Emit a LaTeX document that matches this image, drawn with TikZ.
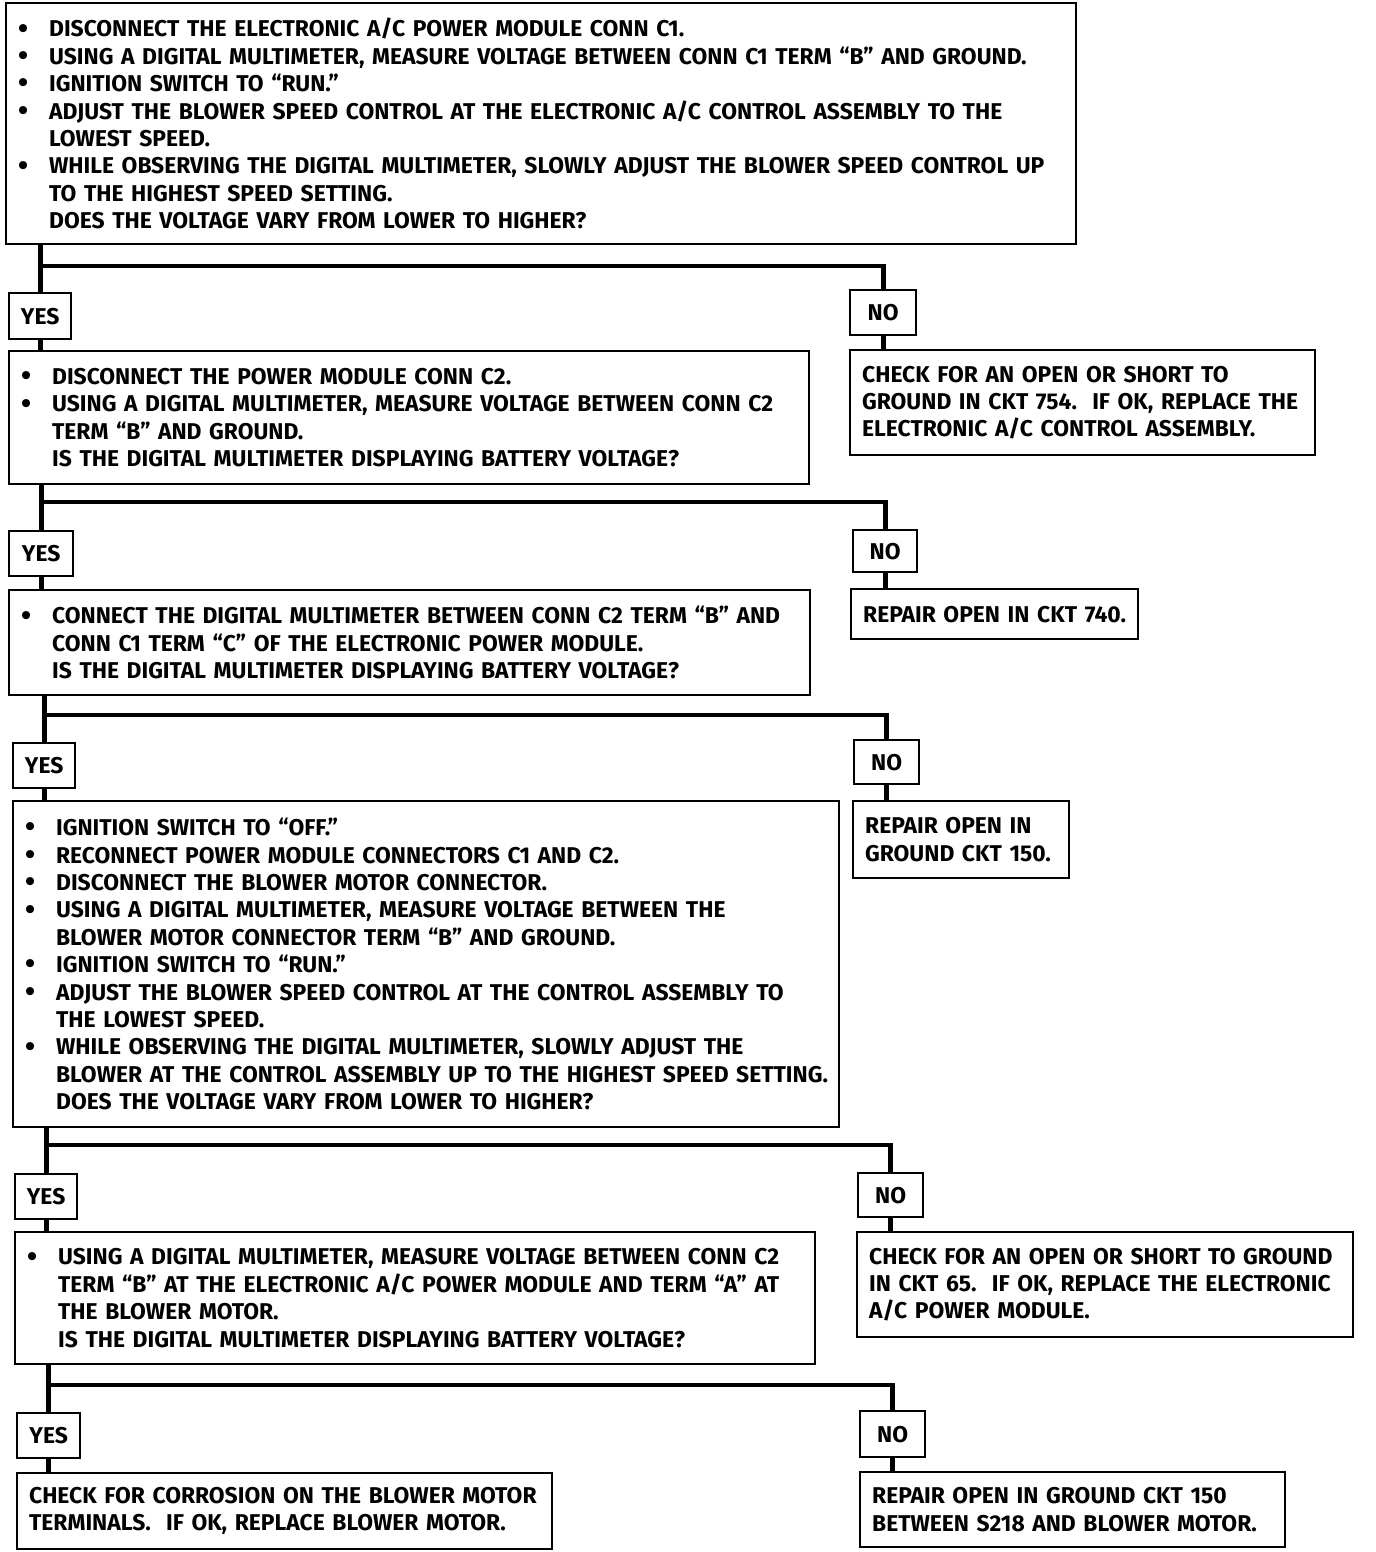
\documentclass[tikz,border=0pt]{standalone}
\usepackage{fontspec}
\setmainfont{Fira Sans}
\usetikzlibrary{positioning}

\newcommand{\bul}{\makebox[0.62cm][l]{\raisebox{-0.1ex}{\fontsize{16.5}{16.5}\selectfont\textbullet}}}
\newcommand{\ind}{\hspace*{0.62cm}}

\begin{document}
\begin{tikzpicture}[
    stepbox/.style={
        draw,
        line width=1.3pt,
        anchor=north west,
        align=left,
        font=\bfseries\fontsize{13}{15.6}\selectfont,
        inner xsep=0.24cm,
        inner ysep=0pt
    },
    answer/.style={
        draw,
        line width=1.3pt,
        anchor=north west,
        align=center,
        font=\bfseries\fontsize{13}{15}\selectfont,
        inner sep=0pt
    },
    flow/.style={line width=2.8pt}
]
\useasboundingbox (0,0) rectangle (27.52,-31.04);

\node[stepbox, text width=20.92cm, minimum height=4.82cm] (q1) at (0.10,-0.04) {
\bul DISCONNECT THE ELECTRONIC A/C POWER MODULE CONN C1.\\
\bul USING A DIGITAL MULTIMETER, MEASURE VOLTAGE BETWEEN CONN C1 TERM “B” AND GROUND.\\
\bul IGNITION SWITCH TO “RUN.”\\
\bul ADJUST THE BLOWER SPEED CONTROL AT THE ELECTRONIC A/C CONTROL ASSEMBLY TO THE\\
\ind LOWEST SPEED.\\
\bul WHILE OBSERVING THE DIGITAL MULTIMETER, SLOWLY ADJUST THE BLOWER SPEED CONTROL UP\\
\ind TO THE HIGHEST SPEED SETTING.\\
\ind DOES THE VOLTAGE VARY FROM LOWER TO HIGHER?
};

\node[answer, minimum width=1.24cm, minimum height=0.92cm] (yes1) at (0.16,-5.84) {YES};
\node[answer, minimum width=1.32cm, minimum height=0.90cm] (no1) at (16.98,-5.78) {NO};

\node[stepbox, text width=15.52cm, minimum height=2.66cm] (q2) at (0.16,-7.00) {
\bul DISCONNECT THE POWER MODULE CONN C2.\\
\bul USING A DIGITAL MULTIMETER, MEASURE VOLTAGE BETWEEN CONN C2\\
\ind TERM “B” AND GROUND.\\
\ind IS THE DIGITAL MULTIMETER DISPLAYING BATTERY VOLTAGE?
};

\node[stepbox, text width=8.82cm, minimum height=2.10cm] (r1) at (16.98,-6.98) {
CHECK FOR AN OPEN OR SHORT TO\\
GROUND IN CKT 754.\ \ IF OK, REPLACE THE\\
ELECTRONIC A/C CONTROL ASSEMBLY.
};

\node[answer, minimum width=1.28cm, minimum height=0.90cm] (yes2) at (0.16,-10.60) {YES};
\node[answer, minimum width=1.28cm, minimum height=0.84cm] (no2) at (17.04,-10.58) {NO};

\node[stepbox, text width=15.54cm, minimum height=2.10cm] (q3) at (0.16,-11.78) {
\bul CONNECT THE DIGITAL MULTIMETER BETWEEN CONN C2 TERM “B” AND\\
\ind CONN C1 TERM “C” OF THE ELECTRONIC POWER MODULE.\\
\ind IS THE DIGITAL MULTIMETER DISPLAYING BATTERY VOLTAGE?
};

\node[stepbox, text width=5.26cm, minimum height=1.00cm] (r2) at (17.00,-11.76) {
REPAIR OPEN IN CKT 740.
};

\node[answer, minimum width=1.24cm, minimum height=0.90cm] (yes3) at (0.24,-14.84) {YES};
\node[answer, minimum width=1.30cm, minimum height=0.88cm] (no3) at (17.06,-14.78) {NO};

\node[stepbox, text width=16.04cm, minimum height=6.52cm] (q4) at (0.24,-16.00) {
\bul IGNITION SWITCH TO “OFF.”\\
\bul RECONNECT POWER MODULE CONNECTORS C1 AND C2.\\
\bul DISCONNECT THE BLOWER MOTOR CONNECTOR.\\
\bul USING A DIGITAL MULTIMETER, MEASURE VOLTAGE BETWEEN THE\\
\ind BLOWER MOTOR CONNECTOR TERM “B” AND GROUND.\\
\bul IGNITION SWITCH TO “RUN.”\\
\bul ADJUST THE BLOWER SPEED CONTROL AT THE CONTROL ASSEMBLY TO\\
\ind THE LOWEST SPEED.\\
\bul WHILE OBSERVING THE DIGITAL MULTIMETER, SLOWLY ADJUST THE\\
\mbox{\ind BLOWER AT THE CONTROL ASSEMBLY UP TO THE HIGHEST SPEED SETTING.}\\
\ind DOES THE VOLTAGE VARY FROM LOWER TO HIGHER?
};

\node[stepbox, text width=3.84cm, minimum height=1.54cm] (r3) at (17.04,-16.00) {
REPAIR OPEN IN\\
GROUND CKT 150.
};

\node[answer, minimum width=1.24cm, minimum height=0.90cm] (yes4) at (0.28,-23.46) {YES};
\node[answer, minimum width=1.30cm, minimum height=0.88cm] (no4) at (17.14,-23.44) {NO};

\node[stepbox, text width=15.52cm, minimum height=2.64cm] (q5) at (0.28,-24.62) {
\bul USING A DIGITAL MULTIMETER, MEASURE VOLTAGE BETWEEN CONN C2\\
\ind TERM “B” AT THE ELECTRONIC A/C POWER MODULE AND TERM “A” AT\\
\ind THE BLOWER MOTOR.\\
\ind IS THE DIGITAL MULTIMETER DISPLAYING BATTERY VOLTAGE?
};

\node[stepbox, text width=9.44cm, minimum height=2.10cm] (r4) at (17.12,-24.62) {
CHECK FOR AN OPEN OR SHORT TO GROUND\\
IN CKT 65.\ \ IF OK, REPLACE THE ELECTRONIC\\
A/C POWER MODULE.
};

\node[answer, minimum width=1.26cm, minimum height=0.90cm] (yes5) at (0.32,-28.24) {YES};
\node[answer, minimum width=1.30cm, minimum height=0.92cm] (no5) at (17.18,-28.20) {NO};

\node[stepbox, text width=10.22cm, minimum height=1.52cm] (r5) at (0.32,-29.44) {
CHECK FOR CORROSION ON THE BLOWER MOTOR\\
TERMINALS.\ \ IF OK, REPLACE BLOWER MOTOR.
};

\node[stepbox, text width=8.02cm, minimum height=1.50cm] (r6) at (17.18,-29.42) {
REPAIR OPEN IN GROUND CKT 150\\
BETWEEN S218 AND BLOWER MOTOR.
};

\coordinate (j1) at (yes1.north |- 0,-5.32);
\coordinate (j2) at (yes2.north |- 0,-10.04);
\coordinate (j3) at (yes3.north |- 0,-14.30);
\coordinate (j4) at (yes4.north |- 0,-22.90);
\coordinate (j5) at (yes5.north |- 0,-27.70);

\draw[flow] (yes1.north |- q1.south) -- (yes1.north);
\draw[flow] (j1) -| (no1.north);
\draw[flow] (yes1.south) -- (yes1.south |- q2.north);
\draw[flow] (no1.south) -- (no1.south |- r1.north);

\draw[flow] (yes2.north |- q2.south) -- (yes2.north);
\draw[flow] (j2) -| (no2.north);
\draw[flow] (yes2.south) -- (yes2.south |- q3.north);
\draw[flow] (no2.south) -- (no2.south |- r2.north);

\draw[flow] (yes3.north |- q3.south) -- (yes3.north);
\draw[flow] (j3) -| (no3.north);
\draw[flow] (yes3.south) -- (yes3.south |- q4.north);
\draw[flow] (no3.south) -- (no3.south |- r3.north);

\draw[flow] (yes4.north |- q4.south) -- (yes4.north);
\draw[flow] (j4) -| (no4.north);
\draw[flow] (yes4.south) -- (yes4.south |- q5.north);
\draw[flow] (no4.south) -- (no4.south |- r4.north);

\draw[flow] (yes5.north |- q5.south) -- (yes5.north);
\draw[flow] (j5) -| (no5.north);
\draw[flow] (yes5.south) -- (yes5.south |- r5.north);
\draw[flow] (no5.south) -- (no5.south |- r6.north);

\end{tikzpicture}
\end{document}
